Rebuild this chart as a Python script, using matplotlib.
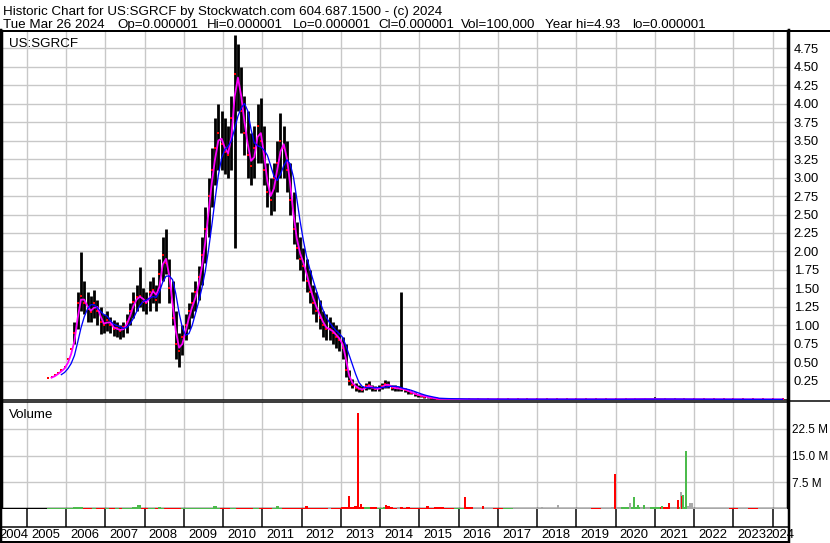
import matplotlib
matplotlib.use("Agg")
import matplotlib.pyplot as plt
import matplotlib.transforms as mtrans
import numpy as np
import pandas as pd

W, H = 830, 543
plt.rcParams['font.family'] = ['Liberation Sans', 'DejaVu Sans']

# ---------------- data ----------------
# monthly price bars, Jul 2005 .. Jun 2015
price_start = 2005.5
price_high = [0.29, 0.30, 0.33, 0.36, 0.40, 0.44,
              0.55, 0.68, 1.05, 1.45, 1.99, 1.60, 1.45, 1.40, 1.48, 1.35, 1.25, 1.15,
              1.20, 1.12, 1.08, 1.05, 1.00, 1.05, 1.15, 1.30, 1.45, 1.55, 1.79, 1.50,
              1.45, 1.60, 1.65, 1.55, 1.90, 2.20, 2.30, 1.90, 1.60, 1.20, 0.90, 1.00,
              1.15, 1.30, 1.45, 1.60, 1.80, 2.20, 2.60, 3.00, 3.40, 3.80, 4.00, 3.90,
              3.80, 3.70, 4.10, 4.93, 4.80, 4.50, 4.10, 3.90, 3.60, 3.70, 4.00, 4.07,
              3.70, 3.20, 3.00, 3.20, 3.50, 3.87, 3.70, 3.50, 3.20, 2.80, 2.40, 2.20,
              2.05, 1.90, 1.75, 1.55, 1.45, 1.35, 1.20, 1.15, 1.12, 1.05, 1.00, 0.95,
              0.85, 0.75, 0.40, 0.28, 0.22, 0.20, 0.18, 0.22, 0.25, 0.20, 0.18, 0.19,
              0.22, 0.27, 0.25, 0.20, 0.19, 0.18, 1.45, 0.16, 0.14, 0.12, 0.10, 0.08,
              0.07, 0.06, 0.05, 0.04, 0.03, 0.02]
price_low = [0.29, 0.30, 0.33, 0.36, 0.40, 0.44,
             0.55, 0.68, 0.75, 0.95, 1.20, 1.15, 1.05, 1.05, 1.10, 1.00, 0.88, 0.90,
             0.92, 0.90, 0.86, 0.85, 0.82, 0.85, 0.90, 1.00, 1.10, 1.20, 1.25, 1.20,
             1.15, 1.20, 1.30, 1.20, 1.30, 1.60, 1.70, 1.30, 1.00, 0.55, 0.44, 0.60,
             0.80, 0.95, 1.10, 1.20, 1.35, 1.55, 1.85, 2.20, 2.60, 2.90, 3.10, 3.10,
             3.05, 3.00, 3.10, 2.05, 3.90, 3.60, 3.30, 3.00, 2.90, 3.00, 3.20, 3.20,
             2.90, 2.60, 2.50, 2.55, 2.80, 3.00, 3.00, 2.80, 2.50, 2.10, 1.90, 1.75,
             1.60, 1.45, 1.30, 1.15, 1.05, 0.95, 0.85, 0.80, 0.80, 0.75, 0.70, 0.65,
             0.55, 0.30, 0.20, 0.15, 0.12, 0.10, 0.10, 0.13, 0.14, 0.12, 0.11, 0.12,
             0.14, 0.16, 0.15, 0.13, 0.12, 0.12, 0.11, 0.10, 0.08, 0.07, 0.05, 0.04,
             0.03, 0.02, 0.02, 0.01, 0.01, 0.005]
price_close = [0.29, 0.30, 0.33, 0.36, 0.40, 0.44,
               0.55, 0.68, 0.90, 1.30, 1.40, 1.30, 1.22, 1.18, 1.30, 1.20, 1.05, 1.00,
               1.08, 1.00, 0.95, 0.96, 0.92, 0.98, 1.05, 1.20, 1.32, 1.38, 1.40, 1.32,
               1.30, 1.45, 1.48, 1.35, 1.70, 1.95, 1.85, 1.50, 1.10, 0.75, 0.65, 0.85,
               1.00, 1.20, 1.30, 1.45, 1.65, 1.95, 2.30, 2.75, 3.10, 3.40, 3.60, 3.45,
               3.35, 3.30, 3.80, 4.40, 4.30, 3.90, 3.60, 3.30, 3.15, 3.40, 3.70, 3.50,
               3.10, 2.80, 2.70, 3.00, 3.20, 3.50, 3.40, 3.10, 2.70, 2.30, 2.05, 1.90,
               1.80, 1.60, 1.45, 1.30, 1.20, 1.10, 1.00, 0.95, 0.95, 0.90, 0.85, 0.80,
               0.70, 0.40, 0.25, 0.20, 0.16, 0.14, 0.13, 0.18, 0.19, 0.15, 0.14, 0.15,
               0.18, 0.21, 0.19, 0.16, 0.15, 0.15, 0.14, 0.13, 0.11, 0.09, 0.07, 0.06,
               0.05, 0.04, 0.03, 0.02, 0.015, 0.01]

# quarterly price, 2015.5 .. 2024.25
tail_start = 2015.5
tail_high = [0.012, 0.010, 0.009, 0.008, 0.008, 0.008, 0.007, 0.007, 0.006,
             0.006, 0.006, 0.006, 0.006, 0.006, 0.006, 0.006, 0.006, 0.006,
             0.008, 0.012, 0.025, 0.020, 0.035, 0.010, 0.008, 0.007, 0.007,
             0.006, 0.006, 0.005, 0.005, 0.005, 0.005, 0.004, 0.004, 0.004]
tail_low = [0.006, 0.005, 0.004, 0.004, 0.003, 0.003, 0.003, 0.003, 0.002,
            0.002, 0.002, 0.002, 0.002, 0.002, 0.002, 0.002, 0.002, 0.002,
            0.002, 0.003, 0.004, 0.004, 0.003, 0.003, 0.002, 0.002, 0.002,
            0.002, 0.001, 0.001, 0.001, 0.001, 0.001, 0.001, 0.001, 0.001]
tail_close = [0.008, 0.006, 0.005, 0.005, 0.004, 0.004, 0.004, 0.004, 0.003,
              0.003, 0.003, 0.003, 0.003, 0.003, 0.003, 0.003, 0.003, 0.003,
              0.004, 0.006, 0.008, 0.006, 0.005, 0.004, 0.004, 0.003, 0.003,
              0.003, 0.002, 0.002, 0.002, 0.002, 0.002, 0.001, 0.001, 0.001]

# monthly volume (millions), Jul 2005 .. Jun 2015
volume_month = [0.3, 0.3, 0.3, 0.3, 0.3, 0.3,
                0.4, 0.4, 0.5, 0.5, 0.6, 0.4, 0.4, 0.3, 0.3, 0.3, 0.3, 0.3,
                0.3, 0.3, 0.3, 0.3, 0.3, 0.3, 0.3, 0.4, 0.5, 0.6, 1.0, 0.4,
                0.3, 0.3, 0.3, 0.3, 0.6, 0.4, 0.4, 0.3, 0.3, 0.4, 0.4, 0.3,
                0.3, 0.3, 0.3, 0.3, 0.3, 0.3, 0.3, 0.4, 0.4, 0.8, 0.4, 0.3,
                0.3, 0.3, 0.3, 0.4, 0.4, 0.3, 0.3, 0.3, 0.3, 0.3, 0.4, 0.4,
                0.3, 0.3, 0.3, 0.3, 0.9, 0.4, 0.3, 0.3, 0.3, 0.3, 0.3, 0.3,
                0.3, 0.9, 0.4, 0.3, 0.3, 0.3, 0.3, 0.3, 0.3, 0.4, 0.4, 0.4,
                0.5, 0.6, 0.5, 0.5, 0.8, 0.6, 0.6, 0.5, 0.5, 0.5, 0.5, 0.4,
                0.4, 0.6, 0.8, 0.5, 0.4, 0.5, 0.5, 0.4, 0.5, 0.4, 0.4, 0.4,
                0.4, 0.3, 0.8, 0.3, 0.3, 0.3]
# quarterly volume 2015.5 .. 2024.25
tail_volume = [0.5, 0.4, 0.4, 0.5, 0.3, 0.3, 0.3, 0.3, 0.3,
               0.3, 0.4, 0.4, 0.3, 0.3, 0.3, 0.3, 0.3, 0.3,
               0.5, 0.6, 0.6, 0.6, 0.6, 0.5, 0.5, 0.6, 0.4,
               0.3, 0.3, 0.3, 0.3, 0.3, 0.3, 0.3, 0.3, 0.3]
tail_volume_color = ['r', 'r', 'g', 'r', 'n', 'n', 'r', 'g', 'n',
                     'n', 'n', 'n', 'n', 'n', 'n', 'n', 'r', 'n',
                     'n', 'g', 'g', 'n', 'g', 'r', 'n', 'g', 'n',
                     'n', 'n', 'n', 'r', 'n', 'r', 'n', 'n', 'n']
# single-day volume spikes
spike_year = [2007.82, 2013.20, 2013.43, 2013.50, 2014.15, 2015.19, 2016.16,
              2016.62, 2018.12, 2018.53, 2019.97, 2020.10, 2020.36, 2020.47,
              2020.58, 2020.72, 2021.18, 2021.36, 2021.59, 2021.66, 2021.69,
              2021.72, 2021.79, 2021.85, 2021.90, 2021.95]
spike_volume = [1.0, 3.6, 27.0, 1.4, 1.0, 0.8, 3.4,
                0.8, 0.6, 1.1, 9.8, 0.7, 1.7, 3.4,
                1.1, 1.0, 0.8, 1.7, 2.5, 4.8, 3.6,
                3.9, 16.3, 0.8, 1.7, 1.8]
spike_color = ['g', 'r', 'r', 'r', 'r', 'r', 'r',
               'r', 'n', 'n', 'r', 'n', 'n', 'g',
               'g', 'g', 'g', 'r', 'r', 'n', 'r',
               'g', 'g', 'n', 'n', 'n']

years = list(range(2005, 2025))
year_labels = [str(y) for y in range(2004, 2025)]
price_ticks = [0.25, 0.50, 0.75, 1.00, 1.25, 1.50, 1.75, 2.00, 2.25, 2.50,
               2.75, 3.00, 3.25, 3.50, 3.75, 4.00, 4.25, 4.50, 4.75]
volume_ticks = [7.5, 15.0, 22.5]

header1 = "Historic Chart for US:SGRCF by Stockwatch.com 604.687.1500 - (c) 2024"
header2 = ["Tue Mar 26 2024", "Op=0.000001", "Hi=0.000001", "Lo=0.000001",
           "Cl=0.000001", "Vol=100,000", "Year hi=4.93", "lo=0.000001"]
header2_x = [3, 117, 207, 293, 378, 461, 545, 632]

# ---------------- derived series ----------------
t_month = price_start + (np.arange(len(price_close)) + 0.5) / 12.0
t_tail = tail_start + np.arange(len(tail_close)) * 0.25
t_all = np.concatenate([t_month, t_tail])
close_all = pd.Series(np.concatenate([price_close, tail_close]))
ma_short = close_all.rolling(2).mean()
ma_long = close_all.rolling(5).mean()

COL = {'r': '#ff0000', 'g': '#4cbb4c', 'n': '#a8a8a8'}
dclose = np.diff(np.concatenate([[price_close[0] * 0.9], price_close]))
month_vcol = [COL['g'] if d > 0 else (COL['r'] if d < 0 else COL['n']) for d in dclose]

# ---------------- figure ----------------
fig = plt.figure(figsize=(W / 100, H / 100), dpi=100)
fig.patch.set_facecolor('white')

def fx(px):
    return px / W

def fy(py):
    return 1 - py / H

XL = (2004.363, 2024.39)
GRID = '#c8c8c8'
PT = 0.72  # points per pixel
FS_HEAD = 9.6
FS_AX = 9.4
FS_VOL = 8.5

ax_p = fig.add_axes([fx(2), fy(400), fx(788) - fx(2), fy(31) - fy(400)])
ax_v = fig.add_axes([fx(2), fy(509), fx(788) - fx(2), fy(402) - fy(509)])
ax_s = fig.add_axes([fx(2), fy(527), fx(788) - fx(2), fy(509) - fy(527)])

for ax in (ax_p, ax_v, ax_s):
    ax.set_xlim(*XL)
    ax.set_facecolor('white')
    for s in ax.spines.values():
        s.set_color('black')

# price panel
ax_p.set_ylim(-0.007, 4.98)
ax_p.set_xticks(years)
ax_p.set_yticks(price_ticks)
ax_p.set_yticklabels([f"{v:.2f}" for v in price_ticks])
ax_p.grid(True, color=GRID, lw=1.4 * PT)
ax_p.set_axisbelow(True)
ax_p.tick_params(axis='x', length=0, labelbottom=False)
ax_p.tick_params(axis='y', length=0, left=False, labelleft=False,
                 right=False, labelright=True, pad=4, labelsize=FS_AX)
ax_p.vlines(t_month, price_low, price_high, color='black', lw=2.8 * PT, zorder=3)
ax_p.vlines(t_tail, tail_low, tail_high, color='black', lw=1.5 * PT, zorder=3)
ax_p.plot(t_all, close_all, 's', color='#ff0000', ms=2.2 * PT, mew=0, zorder=4)
ax_p.plot(t_all, ma_short, color='#ff00ff', lw=1.8 * PT, zorder=5)
ax_p.plot(t_all, ma_long, color='#0000ff', lw=1.3 * PT, zorder=6)
ax_p.spines['top'].set_linewidth(2 * PT)
ax_p.spines['left'].set_linewidth(2.5 * PT)
ax_p.spines['right'].set_linewidth(2.5 * PT)
ax_p.spines['bottom'].set_linewidth(1.5 * PT)

# volume panel
ax_v.set_ylim(0, 30)
ax_v.set_xticks(years)
ax_v.set_yticks(volume_ticks)
ax_v.set_yticklabels([f"{v:.1f} M" for v in volume_ticks])
ax_v.grid(True, color=GRID, lw=1.4 * PT)
ax_v.set_axisbelow(True)
ax_v.tick_params(axis='x', length=0, labelbottom=False)
ax_v.tick_params(axis='y', length=0, left=False, labelleft=False,
                 right=False, labelright=True, pad=3, labelsize=FS_VOL)
ax_v.bar(t_month, volume_month, width=1 / 12.0, color=month_vcol, lw=0, zorder=3)
ax_v.bar(t_tail, tail_volume, width=0.25, color=[COL[c] for c in tail_volume_color],
         lw=0, zorder=3)
ax_v.bar(spike_year, spike_volume, width=0.05, color=[COL[c] for c in spike_color],
         lw=0, zorder=4)
ax_v.spines['top'].set_linewidth(1.5 * PT)
ax_v.spines['left'].set_linewidth(2.5 * PT)
ax_v.spines['right'].set_linewidth(2.5 * PT)
ax_v.spines['bottom'].set_linewidth(2.5 * PT)

# tick strip
ax_s.set_ylim(0, 1)
ax_s.set_xticks([])
ax_s.set_yticks([])
ax_s.vlines(years, 0, 1, color='black', lw=1.5 * PT)
for s in ax_s.spines.values():
    s.set_visible(False)

# year labels
lab_tr = mtrans.offset_copy(ax_s.transData, fig=fig, x=4, y=0, units='dots')
lab_blend = mtrans.blended_transform_factory(lab_tr, fig.transFigure)
for y in years[:-1]:
    ax_s.text(y, fy(534.5), str(y), transform=lab_blend,
              va='center', ha='left', fontsize=FS_AX)
fig.text(fx(-1), fy(534.5), year_labels[0], va='center', ha='left', fontsize=FS_AX)
fig.text(fx(765), fy(534.5), year_labels[-1], va='center', ha='left', fontsize=FS_AX)

# frame lines
def hline(py, x0, x1, lw):
    fig.add_artist(plt.Line2D([fx(x0), fx(x1)], [fy(py), fy(py)], color='black',
                              lw=lw * PT, transform=fig.transFigure))

def vline(px, y0, y1, lw):
    fig.add_artist(plt.Line2D([fx(px), fx(px)], [fy(y0), fy(y1)], color='black',
                              lw=lw * PT, transform=fig.transFigure))

hline(30.5, 0, 830, 2)
hline(400.8, 788, 830, 1.5)
hline(527, 0, 789, 1.5)
hline(541.5, 0, 789, 2)
vline(1, 30, 542, 2.5)
vline(788.5, 30, 542, 2.5)

# texts
fig.text(fx(3), fy(15), header1, fontsize=FS_HEAD, va='baseline', ha='left')
for s, x in zip(header2, header2_x):
    fig.text(fx(x), fy(27.7), s, fontsize=FS_HEAD, va='baseline', ha='left')
fig.text(fx(9), fy(47), "US:SGRCF", fontsize=FS_HEAD, va='baseline', ha='left')
fig.text(fx(9), fy(417.5), "Volume", fontsize=FS_HEAD, va='baseline', ha='left')

fig.savefig("out.png", dpi=100, facecolor='white')
